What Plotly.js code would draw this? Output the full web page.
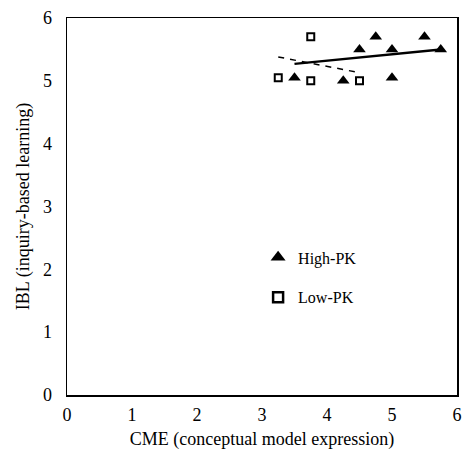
<!DOCTYPE html>
<html>
<head>
<meta charset="utf-8">
<script src="https://cdn.plot.ly/plotly-3.0.1.min.js"></script>
<style>html,body{margin:0;padding:0;background:#fff;}#chart{width:462px;height:454px;}</style>
</head>
<body>
<div id="chart"></div>
<script>
// High-PK data
const highX = [3.5, 4.25, 4.5, 4.75, 5.0, 5.0, 5.5, 5.75];
const highY = [5.05, 5.0, 5.5, 5.7, 5.5, 5.05, 5.7, 5.5];
// Low-PK data
const lowX = [3.25, 3.75, 3.75, 4.5];
const lowY = [5.05, 5.7, 5.0, 5.0];
// Trend lines (endpoints)
const highTrendX = [3.5, 5.75];
const highTrendY = [5.27, 5.5];
const lowTrendX = [3.25, 4.5];
const lowTrendY = [5.38, 5.13];
const tickVals = [0, 1, 2, 3, 4, 5, 6];
const seriesNames = ['High-PK', 'Low-PK'];

const serif = 'Liberation Serif, Times New Roman, serif';

const data = [
  {x: highTrendX, y: highTrendY, mode: 'lines', line: {color: '#000', width: 2.5}, showlegend: false, hoverinfo: 'skip'},
  {x: lowTrendX, y: lowTrendY, mode: 'lines', line: {color: '#000', width: 1.5, dash: '6px,6px'}, showlegend: false, hoverinfo: 'skip'},
  {x: highX, y: highY, mode: 'markers', name: seriesNames[0], legendgroup: 'a', showlegend: false,
   marker: {symbol: 'triangle-up', size: 11, color: '#000', line: {width: 0}}},
  {x: lowX, y: lowY, mode: 'markers', name: seriesNames[1], legendgroup: 'b', showlegend: false,
   marker: {symbol: 'square-open', size: 7, color: '#000', line: {width: 2, color: '#000'}}},
  // legend entries (larger symbols as in the reference legend)
  {x: [null], y: [null], mode: 'markers', name: seriesNames[0], legendgroup: 'a',
   marker: {symbol: 'triangle-up', size: 13, color: '#000', line: {width: 0}}},
  {x: [null], y: [null], mode: 'markers', name: seriesNames[1], legendgroup: 'b',
   marker: {symbol: 'square-open', size: 10, color: '#000', line: {width: 2.5, color: '#000'}}}
];

const axisCommon = {
  range: [0, 6], tickvals: tickVals, showgrid: false, zeroline: false,
  showline: true, linecolor: '#000', linewidth: 1.5, mirror: true,
  ticks: 'outside', tickcolor: 'rgba(0,0,0,0)',
  tickfont: {family: serif, size: 18, color: '#000'}
};

const layout = {
  width: 462, height: 454,
  margin: {l: 67, r: 5, t: 18, b: 59},
  paper_bgcolor: '#fff', plot_bgcolor: '#fff',
  font: {family: serif, color: '#000'},
  xaxis: Object.assign({}, axisCommon, {ticklen: 3,
    title: {text: 'CME (conceptual model expression)', font: {family: serif, size: 18, color: '#000'}, standoff: 8}}),
  yaxis: Object.assign({}, axisCommon, {ticklen: 10,
    title: {text: 'IBL (inquiry-based learning)', font: {family: serif, size: 18, color: '#000'}, standoff: 8}}),
  legend: {x: 0.49, y: 0.41, xanchor: 'left', yanchor: 'top', bgcolor: 'rgba(0,0,0,0)',
    font: {family: serif, size: 16, color: '#000'}, tracegroupgap: 16, traceorder: 'grouped'},
  showlegend: true
};

Plotly.newPlot('chart', data, layout, {staticPlot: true, displayModeBar: false});
</script>
</body>
</html>
